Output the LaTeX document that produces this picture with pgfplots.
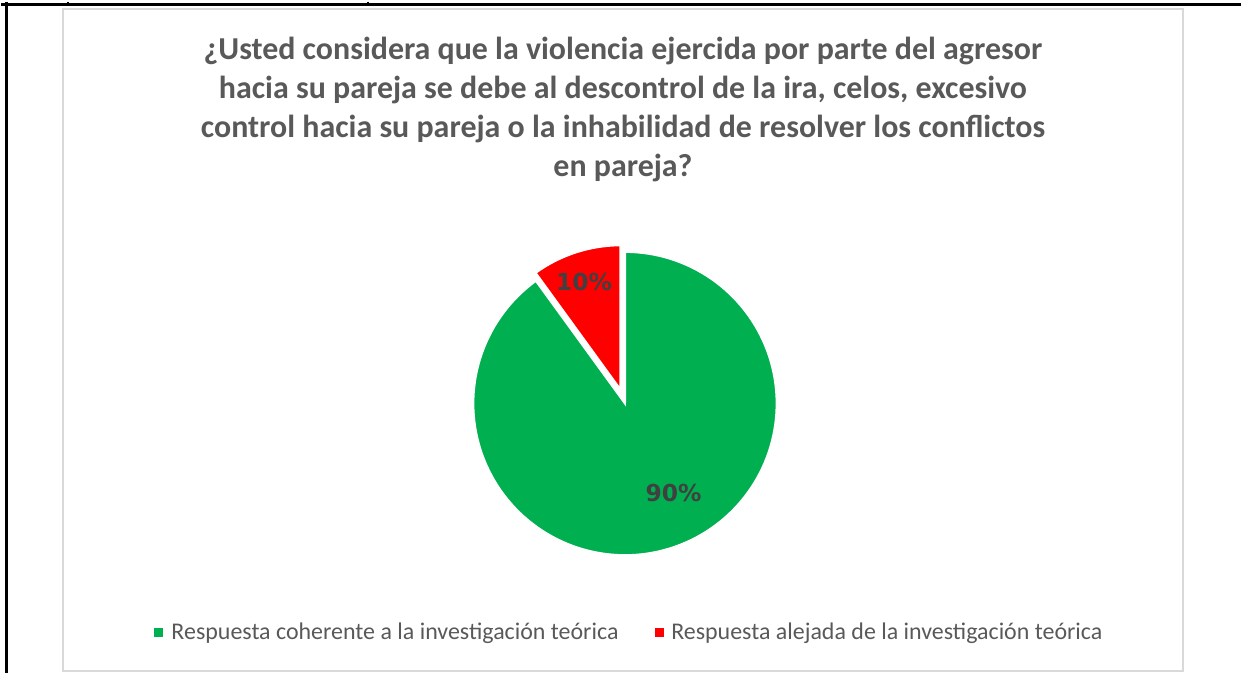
\documentclass[border=0pt]{standalone}
\usepackage{pgfplots}
\pgfplotsset{compat=1.18}
\usepackage{pgfplotstable}
\usepackage{fontspec}
\setmainfont{Carlito}
\newfontfamily\labfont{DejaVu Sans}
\definecolor{pgreen}{HTML}{00B050}
\definecolor{pred}{HTML}{FF0000}
\definecolor{tgray}{HTML}{595959}
\definecolor{lgray}{HTML}{404040}
\definecolor{bgray}{HTML}{D9D9D9}

\pgfplotstableread{
label value
Coherente 90
Alejada 10
}\piedata

\begin{document}
\begin{tikzpicture}
\pgfplotstablegetelem{0}{value}\of\piedata \edef\vA{\pgfplotsretval}
\pgfplotstablegetelem{1}{value}\of\piedata \edef\vB{\pgfplotsretval}
\pgfmathsetmacro\angB{90+360*\vB/(\vA+\vB)}
\pgfmathsetmacro\angAend{450}
\pgfmathsetmacro\midB{(90+\angB)/2}
\pgfmathsetmacro\exA{0.086*cos(\midB)}
\pgfmathsetmacro\exB{0.086*sin(\midB)}
\begin{scope}[x=0.5pt,y=-0.5pt]
% canvas
\path (0,0) rectangle (1242,673);
% table lines
\draw[black, line width=1.5pt] (0,3) -- (1242,3);
\draw[black, line width=1.5pt] (5,0) -- (5,673);
\draw[black, line width=1pt] (67,0) -- (67,3);
\draw[black, line width=1pt] (367,0) -- (367,3);
% chart border
\draw[bgray, line width=1pt] (62,8) rectangle (1184,671);
% title
\node[align=center, text=tgray, font=\fontsize{16}{19.5}\selectfont\bfseries, anchor=north] at (623,29)
{¿Usted considera que la violencia ejercida por parte del agresor\\
hacia su pareja se debe al descontrol de la ira, celos, excesivo\\
control hacia su pareja o la inhabilidad de resolver los conflictos\\
en pareja?};
% legend
\fill[pgreen] (153,628) rectangle (162,637);
\node[anchor=west, inner sep=0pt, text=tgray, font=\fontsize{12}{14}\selectfont] at (170,633) {Respuesta coherente a la investigación teórica};
\fill[pred] (655,628) rectangle (664,637);
\node[anchor=west, inner sep=0pt, text=tgray, font=\fontsize{12}{14}\selectfont] at (671,633) {Respuesta alejada de la investigación teórica};
\end{scope}
% pie
\begin{axis}[at={(312.5pt,-201.5pt)}, anchor=center, scale only axis,
  width=152pt, height=152pt, xmin=-1, xmax=1, ymin=-1, ymax=1,
  hide axis, clip=false, trig format plots=deg]
\addplot[fill=pgreen, draw=white, line width=1pt, domain=\angB:\angAend, samples=150, variable=\t]
  ({cos(t)},{sin(t)}) -- (axis cs:0,0) -- cycle;
\addplot[fill=pred, draw=white, line width=1.5pt, domain=90:\angB, samples=30, variable=\t]
  ({\exA+0.965*cos(t)},{\exB+0.965*sin(t)}) -- (axis cs:\exA,\exB) -- cycle;
\node[text=lgray, font=\labfont\fontsize{11.7}{14}\selectfont\bfseries] at (axis cs:-0.27,0.80) {10\%};
\node[text=lgray, font=\labfont\fontsize{11.7}{14}\selectfont\bfseries] at (axis cs:0.32,-0.59) {90\%};
\end{axis}
\end{tikzpicture}
\end{document}
